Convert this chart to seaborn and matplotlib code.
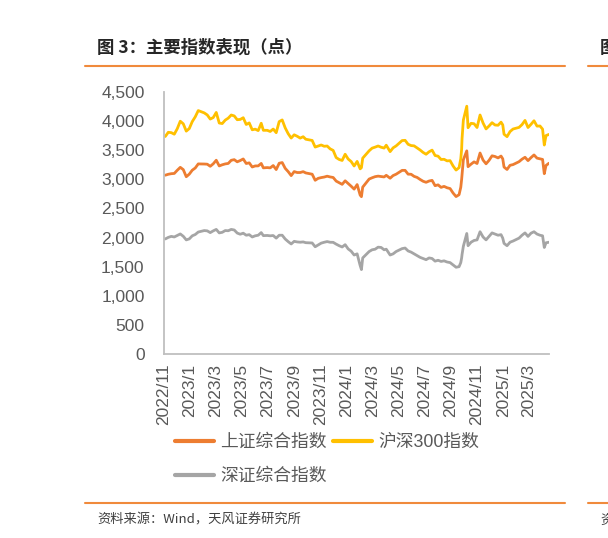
import matplotlib
matplotlib.use('Agg')
import matplotlib.pyplot as plt
import seaborn as sns
import pandas as pd
from matplotlib.lines import Line2D
from matplotlib.ticker import FuncFormatter

# ---------------- data ----------------
dates = [
    '2022-11-04', '2022-11-11', '2022-11-18', '2022-11-25', '2022-12-02', '2022-12-09',
    '2022-12-16', '2022-12-23', '2022-12-30', '2023-01-06', '2023-01-13', '2023-01-20',
    '2023-02-03', '2023-02-10', '2023-02-17', '2023-02-24', '2023-03-03', '2023-03-10',
    '2023-03-17', '2023-03-24', '2023-03-31', '2023-04-07', '2023-04-14', '2023-04-21',
    '2023-04-28', '2023-05-05', '2023-05-12', '2023-05-19', '2023-05-26', '2023-06-02',
    '2023-06-09', '2023-06-16', '2023-06-21', '2023-06-30', '2023-07-07', '2023-07-14',
    '2023-07-21', '2023-07-28', '2023-08-04', '2023-08-11', '2023-08-18', '2023-08-25',
    '2023-09-01', '2023-09-08', '2023-09-15', '2023-09-22', '2023-09-28', '2023-10-13',
    '2023-10-20', '2023-10-27', '2023-11-03', '2023-11-10', '2023-11-17', '2023-11-24',
    '2023-12-01', '2023-12-08', '2023-12-15', '2023-12-22', '2023-12-29', '2024-01-05',
    '2024-01-12', '2024-01-19', '2024-01-26', '2024-02-02', '2024-02-05', '2024-02-08',
    '2024-02-23', '2024-03-01', '2024-03-08', '2024-03-15', '2024-03-22', '2024-03-29',
    '2024-04-03', '2024-04-12', '2024-04-19', '2024-04-26', '2024-05-10', '2024-05-17',
    '2024-05-24', '2024-05-31', '2024-06-07', '2024-06-14', '2024-06-21', '2024-06-28',
    '2024-07-05', '2024-07-12', '2024-07-19', '2024-07-26', '2024-08-02', '2024-08-09',
    '2024-08-16', '2024-08-23', '2024-08-30', '2024-09-06', '2024-09-13', '2024-09-20',
    '2024-09-24', '2024-09-26', '2024-09-27', '2024-09-30', '2024-10-08', '2024-10-11',
    '2024-10-18', '2024-10-25', '2024-11-01', '2024-11-08', '2024-11-15', '2024-11-22',
    '2024-11-29', '2024-12-06', '2024-12-13', '2024-12-20', '2024-12-27', '2024-12-31',
    '2025-01-03', '2025-01-10', '2025-01-17', '2025-01-24', '2025-02-07', '2025-02-14',
    '2025-02-21', '2025-02-28', '2025-03-07', '2025-03-14', '2025-03-21', '2025-03-28',
    '2025-04-03', '2025-04-07', '2025-04-11', '2025-04-18',
]

sse = [
    3071, 3087, 3097, 3101, 3156, 3206, 3167, 3045, 3089, 3157, 3195, 3265,
    3263, 3260, 3224, 3267, 3328, 3230, 3250, 3265, 3273, 3327, 3338, 3301,
    3323, 3350, 3272, 3283, 3212, 3230, 3231, 3273, 3197, 3202, 3197, 3237,
    3168, 3276, 3288, 3189, 3132, 3064, 3133, 3117, 3117, 3132, 3110, 3088,
    2984, 3017, 3030, 3039, 3054, 3041, 3032, 2970, 2942, 2914, 2975, 2929,
    2882, 2832, 2910, 2730, 2702, 2866, 3005, 3027, 3046, 3055, 3048, 3041,
    3069, 3019, 3065, 3088, 3154, 3154, 3089, 3087, 3051, 3033, 2998, 2967,
    2949, 2971, 2982, 2891, 2905, 2862, 2879, 2855, 2842, 2765, 2704, 2736,
    2864, 3000, 3088, 3336, 3489, 3217, 3261, 3300, 3272, 3452, 3331, 3267,
    3326, 3404, 3392, 3368, 3400, 3352, 3211, 3169, 3241, 3253, 3303, 3346,
    3379, 3321, 3373, 3419, 3364, 3352, 3342, 3097, 3238, 3277,
]

csi300 = [
    3736, 3808, 3802, 3775, 3870, 3998, 3954, 3828, 3872, 3992, 4074, 4181,
    4141, 4106, 4035, 4061, 4149, 3967, 3958, 4017, 4051, 4105, 4089, 4024,
    4029, 4058, 3942, 3969, 3851, 3862, 3837, 3963, 3842, 3842, 3822, 3864,
    3801, 3992, 4020, 3884, 3784, 3709, 3765, 3740, 3708, 3732, 3689, 3668,
    3554, 3572, 3590, 3568, 3572, 3523, 3497, 3374, 3341, 3324, 3431, 3349,
    3306, 3229, 3308, 3180, 3200, 3364, 3490, 3536, 3553, 3573, 3551, 3537,
    3586, 3476, 3541, 3574, 3666, 3670, 3602, 3580, 3575, 3540, 3504, 3462,
    3431, 3473, 3502, 3409, 3398, 3341, 3344, 3317, 3321, 3230, 3159, 3201,
    3353, 3519, 3703, 4017, 4256, 3887, 3962, 3955, 3890, 4105, 3968, 3866,
    3916, 3973, 3933, 3929, 3982, 3935, 3775, 3733, 3820, 3864, 3892, 3940,
    4012, 3890, 3945, 4006, 3914, 3916, 3862, 3589, 3751, 3772,
]

szse = [
    1976, 2003, 2020, 2010, 2035, 2062, 2022, 1960, 1977, 2030, 2052, 2095,
    2120, 2115, 2085, 2115, 2140, 2080, 2090, 2120, 2117, 2140, 2130, 2077,
    2057, 2075, 2040, 2050, 2010, 2030, 2040, 2085, 2033, 2036, 2030, 2035,
    1990, 2040, 2040, 1975, 1930, 1890, 1935, 1925, 1920, 1925, 1912, 1907,
    1842, 1873, 1904, 1919, 1931, 1919, 1918, 1887, 1860, 1838, 1878, 1805,
    1766, 1700, 1720, 1520, 1450, 1650, 1760, 1790, 1800, 1835, 1830, 1790,
    1800, 1700, 1720, 1760, 1810, 1820, 1770, 1750, 1720, 1690, 1660, 1640,
    1620, 1650, 1640, 1595, 1610, 1590, 1600, 1580, 1570, 1530, 1490, 1500,
    1570, 1650, 1710, 1850, 2070, 1860, 1920, 1950, 1960, 2100, 2010, 1960,
    2020, 2080, 2060, 2040, 2050, 1990, 1900, 1860, 1920, 1940, 1990, 2040,
    2080, 2020, 2075, 2100, 2060, 2040, 2030, 1830, 1910, 1920,
]

series_names = ['上证综合指数', '沪深300指数', '深证综合指数']
series_colors = ['#ED7D31', '#FFC000', '#A5A5A5']

tick_dates = ['2022-11-01', '2023-01-01', '2023-03-01', '2023-05-01', '2023-07-01',
              '2023-09-01', '2023-11-01', '2024-01-01', '2024-03-01', '2024-05-01',
              '2024-07-01', '2024-09-01', '2024-11-01', '2025-01-01', '2025-03-01']
tick_labels = ['2022/11', '2023/1', '2023/3', '2023/5', '2023/7', '2023/9', '2023/11',
               '2024/1', '2024/3', '2024/5', '2024/7', '2024/9', '2024/11', '2025/1', '2025/3']

title_text = '图 3：主要指数表现（点）'
source_text = '资料来源：Wind，天风证券研究所'

# ---------------- styling ----------------
sns.set_theme(style='white')
plt.rcParams['font.family'] = ['Liberation Sans', 'Noto Sans CJK SC', 'DejaVu Sans']
CJK = ['Noto Sans CJK SC', 'DejaVu Sans']

W, H = 608, 538
fig = plt.figure(figsize=(W / 100, H / 100), dpi=100)
fig.patch.set_facecolor('white')

def fx(px):
    return px / W

def fy(py):
    return 1 - py / H

ax = fig.add_axes([fx(164), fy(354), (549 - 164) / W, (354 - 92) / H])

df = pd.DataFrame({'date': pd.to_datetime(dates),
                   series_names[0]: sse,
                   series_names[1]: csi300,
                   series_names[2]: szse})
long = df.melt(id_vars='date', var_name='series', value_name='value')

sns.lineplot(data=long, x='date', y='value', hue='series', hue_order=series_names,
             palette=dict(zip(series_names, series_colors)), linewidth=2.0,
             ax=ax, legend=False)

ax.set_xlim(pd.Timestamp('2022-11-01'), pd.Timestamp('2025-04-18'))
ax.set_ylim(0, 4500)
ax.set_yticks(range(0, 4501, 500))
ax.yaxis.set_major_formatter(FuncFormatter(lambda v, p: f'{int(v):,}'))
ax.set_xticks(pd.to_datetime(tick_dates))
ax.set_xticklabels(tick_labels, rotation=90)
ax.set_xlabel('')
ax.set_ylabel('')

grey = '#BFBFBF'
for s in ['top', 'right']:
    ax.spines[s].set_visible(False)
for s in ['left', 'bottom']:
    ax.spines[s].set_color(grey)
    ax.spines[s].set_linewidth(1.3)
ax.tick_params(axis='x', direction='out', length=5, width=1.2, color=grey,
               labelsize=12.5, labelcolor='#595959', pad=2)
ax.tick_params(axis='y', direction='in', length=5, width=1.2, color=grey,
               labelsize=12.5, labelcolor='#595959', pad=14)
ax.grid(False)

# legend (row-major order: 上证, 沪深300 / 深证)
handles = [Line2D([], [], color=series_colors[0], lw=3),
           Line2D([], [], color=series_colors[2], lw=3),
           Line2D([], [], color=series_colors[1], lw=3)]
labels = [series_names[0], series_names[2], series_names[1]]
leg = fig.legend(handles, labels, loc='upper left', bbox_to_anchor=(fx(175), fy(434)),
                 ncol=2, frameon=False, fontsize=12.8, handlelength=2.2,
                 handletextpad=0.35, columnspacing=0.35, labelspacing=0.95,
                 borderpad=0, borderaxespad=0)
for t in leg.get_texts():
    t.set_color('#595959')

# page decorations
orange = '#F08A3C'
fig.text(fx(97), fy(48), title_text, fontsize=12.5, fontweight='bold', color='#262626',
         va='center', ha='left', family=CJK)
fig.add_artist(Line2D([fx(85), fx(565)], [fy(66), fy(66)], color=orange, lw=1.5))
fig.add_artist(Line2D([fx(85), fx(565)], [fy(503), fy(503)], color=orange, lw=1.5))
fig.text(fx(97), fy(520), source_text, fontsize=9.5, color='#404040',
         va='center', ha='left', family=CJK)

# neighbouring panel, clipped by the page edge
fig.add_artist(Line2D([fx(588), fx(610)], [fy(66), fy(66)], color=orange, lw=1.5))
fig.add_artist(Line2D([fx(588), fx(610)], [fy(503), fy(503)], color=orange, lw=1.5))
fig.text(fx(600), fy(48), '图', fontsize=12.5, fontweight='bold', color='#262626',
         va='center', ha='left', family=CJK)
fig.text(fx(600), fy(520), '资', fontsize=9.5, color='#404040',
         va='center', ha='left', family=CJK)

fig.savefig('out.png', dpi=100, facecolor='white')
